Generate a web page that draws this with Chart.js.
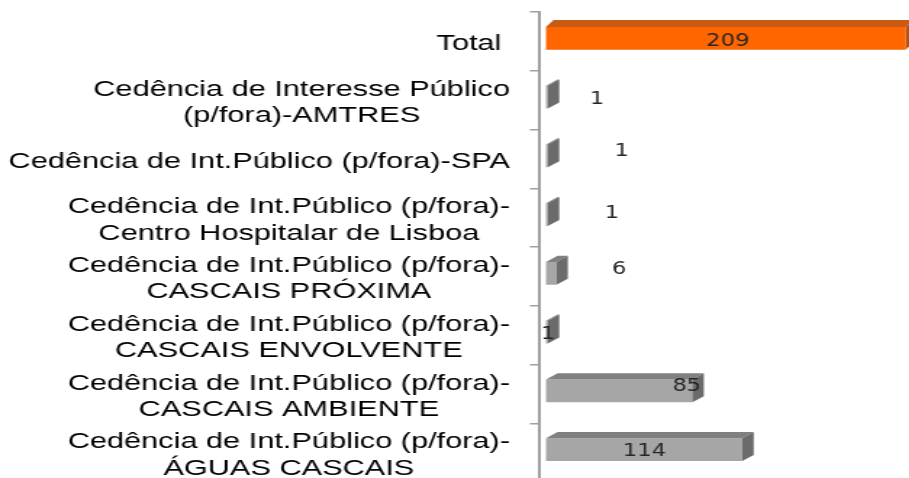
<!DOCTYPE html>
<html><head><meta charset="utf-8">
<script src="https://cdn.jsdelivr.net/npm/chart.js@4/dist/chart.umd.min.js"></script>
<style>
html,body{margin:0;padding:0;overflow:hidden;background:#fff;width:909px;height:478px}
#wrap{position:absolute;left:0;top:0;width:627px;height:486px;transform:scaleX(1.45);transform-origin:0 0}
canvas{display:block}
</style></head>
<body><div id="wrap"><canvas id="c" width="627" height="486"></canvas></div>
<script>
// ---- data ----
const categories = [
  "Total ",
  ["Cedência de Interesse Público", "(p/fora)-AMTRES"],
  "Cedência de Int.Público (p/fora)-SPA",
  ["Cedência de Int.Público (p/fora)-", "Centro Hospitalar de Lisboa"],
  ["Cedência de Int.Público (p/fora)-", "CASCAIS PRÓXIMA"],
  ["Cedência de Int.Público (p/fora)-", "CASCAIS ENVOLVENTE"],
  ["Cedência de Int.Público (p/fora)-", "CASCAIS AMBIENTE"],
  ["Cedência de Int.Público (p/fora)-", "ÁGUAS CASCAIS"]
];
const values = [209, 1, 1, 1, 6, 1, 85, 114];
const valueLabels = ["209", "1", "1", "1", "6", "1", "85", "114"];

// ---- styling ----
const frontColors = values.map((v, i) => i === 0 ? '#FF6600' : '#A6A6A6');
const topColors   = values.map((v, i) => i === 0 ? '#C85A12' : '#808080');
const sideColors  = values.map((v, i) => i === 0 ? '#B9500C' : '#6B6B6B');
const labelShiftX = [1.4, 34.5, 51.7, 44.8, 46.9, 0.8, 46.6, 0.3];
const labelShiftY = [-2, -2, -9, -6, -9, -2.6, -9.5, -2.6];
const TICK_LEN = 7, TICK_PAD = 13.7;

// Excel-style: block right-aligned, lines centred among themselves
const centredLines = {
  id: 'centredLines',
  beforeDraw(chart) {
    const ys = chart.scales.y;
    const items = ys.getLabelItems(chart.chartArea);
    const sizes = ys._getLabelSizes();
    const xr = ys.right - TICK_LEN - TICK_PAD;
    items.forEach((it, i) => {
      const w = sizes.widths[i];
      it.options.textAlign = 'center';
      it.options.translation[0] = xr - w / 2;
      it.options.translation[1] += 3;
    });
  }
};

const bar3d = {
  id: 'bar3d',
  beforeDatasetsDraw(chart) { chart.ctx.save(); chart.ctx.translate(0, -3); },
  afterDatasetsDraw(chart) {
    const ctx = chart.ctx;
    const meta = chart.getDatasetMeta(0);
    meta.data.forEach((el, i) => {
      const p = el.getProps(['x', 'y', 'base', 'height'], true);
      const top = p.y - p.height / 2, bot = p.y + p.height / 2;
      const dx = (i === 0 ? 7.5 : 11.5) / 1.45, dy = i === 0 ? 7 : 6.2;
      const l = Math.min(p.base, p.x), r = Math.max(p.base, p.x);
      ctx.fillStyle = topColors[i];
      ctx.beginPath();
      ctx.moveTo(l, top); ctx.lineTo(r, top); ctx.lineTo(r + dx, top - dy); ctx.lineTo(l + dx, top - dy);
      ctx.closePath(); ctx.fill();
      ctx.fillStyle = sideColors[i];
      ctx.beginPath();
      ctx.moveTo(r, top); ctx.lineTo(r + dx, top - dy); ctx.lineTo(r + dx, bot - dy); ctx.lineTo(r, bot);
      ctx.closePath(); ctx.fill();
    });
    ctx.restore();
  },
  afterDraw(chart) {
    const ctx = chart.ctx;
    const meta = chart.getDatasetMeta(0);
    const ys = chart.scales.y;
    const size = 17.4;
    ctx.save();
    ctx.font = size + 'px "DejaVu Sans Condensed", "Liberation Sans", sans-serif';
    ctx.fillStyle = '#262626';
    ctx.textAlign = 'center';
    ctx.textBaseline = 'alphabetic';
    meta.data.forEach((el, i) => {
      const p = el.getProps(['x', 'base'], true);
      const cx = (p.x + p.base) / 2 + labelShiftX[i];
      const cy = ys.getPixelForValue(i) + labelShiftY[i];
      ctx.fillText(valueLabels[i], cx, cy + 0.3645 * size);
    });
    ctx.restore();
  }
};

new Chart(document.getElementById('c'), {
  type: 'bar',
  data: {
    labels: categories,
    datasets: [{
      data: values,
      backgroundColor: frontColors,
      borderWidth: 0,
      barPercentage: 0.39,
      categoryPercentage: 1
    }]
  },
  options: {
    indexAxis: 'y',
    responsive: false,
    animation: false,
    devicePixelRatio: 1,
    layout: { padding: { top: 12, bottom: 4, left: 0, right: 0 } },
    plugins: { legend: { display: false }, tooltip: { enabled: false } },
    scales: {
      x: { display: false, min: -3.5, max: 211 },
      y: {
        afterFit(s) { s.width = 372.4; s.paddingTop = 0; s.paddingBottom = 0; },
        border: { display: true, color: '#A0A0A0', width: 2 },
        grid: { display: true, drawOnChartArea: false, drawTicks: true, tickLength: TICK_LEN, color: '#A0A0A0', lineWidth: 1.5, offset: true },
        ticks: {
          color: '#000',
          autoSkip: false,
          padding: TICK_PAD,
          font: { family: '"Liberation Sans", Arial, sans-serif', size: 21.2, lineHeight: 1.23 }
        }
      }
    }
  },
  plugins: [centredLines, bar3d]
});
</script>
</body></html>
